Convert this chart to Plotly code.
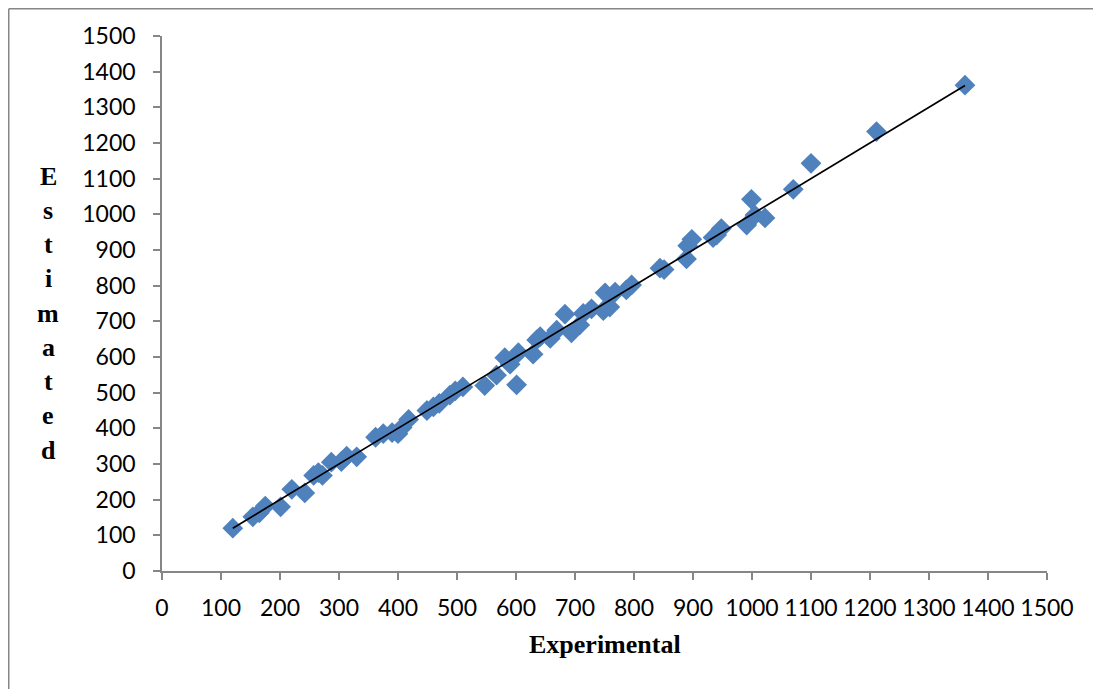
import plotly.graph_objects as go

experimental = [120, 154, 165, 175, 201, 220, 242, 257, 265, 272, 287, 304, 313, 330,
                362, 375, 390, 400, 407, 418, 449, 460, 470, 488, 497, 510, 547, 567,
                581, 590, 601, 604, 629, 635, 641, 658, 669, 683, 694, 708, 714, 728,
                748, 751, 759, 768, 787, 796, 844, 851, 889, 891, 898, 934, 940, 948,
                991, 999, 1005, 1022, 1070, 1100, 1211, 1361]
estimated = [120, 152, 163, 182, 180, 229, 219, 268, 276, 268, 305, 307, 322, 320,
             375, 385, 388, 385, 402, 425, 450, 460, 470, 493, 505, 516, 520, 549,
             598, 580, 522, 612, 608, 648, 657, 652, 675, 720, 668, 690, 722, 735,
             730, 780, 740, 782, 788, 802, 849, 845, 875, 912, 930, 935, 942, 960,
             970, 1042, 998, 990, 1070, 1143, 1232, 1362]
tick_vals = list(range(0, 1501, 100))
x_title = "Experimental"
y_title = "Estimated"

fig = go.Figure()
fig.add_trace(go.Scatter(
    x=experimental, y=estimated, mode="markers",
    marker=dict(symbol="diamond", size=16, color="#4F81BD", line=dict(width=0)),
    showlegend=False))
lo, hi = min(experimental), max(experimental)
fig.add_trace(go.Scatter(x=[lo, hi], y=[lo, hi], mode="lines",
                         line=dict(color="black", width=1.7), showlegend=False))

axis_common = dict(range=[0, 1500], tickvals=tick_vals, showgrid=False, zeroline=False,
                   showline=True, linecolor="#868686", linewidth=1.5,
                   ticks="outside", ticklen=7, tickcolor="#868686", tickwidth=1.5,
                   tickfont=dict(family="Lato", size=23, color="black"))
fig.update_xaxes(**axis_common, ticklabelstandoff=9)
fig.update_yaxes(**axis_common, ticklabelstandoff=13)

# page offset (body margin) and target plot-area pixel positions
OFF = 8
W, H = 1101, 689
PX0, PX1, PY0, PY1 = 162, 1047, 571, 36  # page pixels of axis ends
L = PX0 - OFF
T = PY1 - OFF
pw, ph = PX1 - PX0, PY0 - PY1
R = W - L - pw
B = H - T - ph

def px_to_paper_x(px):
    return (px - PX0) / pw

def px_to_paper_y(py):
    return (PY0 - py) / ph

annotations = [dict(text="<b>%s</b>" % x_title, xref="paper", yref="paper",
                    x=px_to_paper_x(605), y=px_to_paper_y(645), showarrow=False,
                    font=dict(family="Liberation Serif", size=26, color="black"),
                    xanchor="center", yanchor="middle")]
for i, ch in enumerate(y_title):
    annotations.append(dict(text="<b>%s</b>" % ch, xref="paper", yref="paper",
                            x=px_to_paper_x(48), y=px_to_paper_y(176 + i * 34.25),
                            showarrow=False, xanchor="center", yanchor="middle",
                            font=dict(family="Liberation Serif", size=26, color="black")))

shapes = [
    dict(type="line", xref="paper", yref="paper", x0=px_to_paper_x(8.75), x1=px_to_paper_x(8.75),
         y0=px_to_paper_y(700), y1=px_to_paper_y(8.75), line=dict(color="#868686", width=1.5)),
    dict(type="line", xref="paper", yref="paper", x0=px_to_paper_x(8.75), x1=px_to_paper_x(1115),
         y0=px_to_paper_y(8.75), y1=px_to_paper_y(8.75), line=dict(color="#868686", width=1.5)),
]

fig.update_layout(width=W, height=H, margin=dict(l=L, r=R, t=T, b=B),
                  plot_bgcolor="white", paper_bgcolor="white",
                  annotations=annotations, shapes=shapes)
fig.write_html("out.html")
